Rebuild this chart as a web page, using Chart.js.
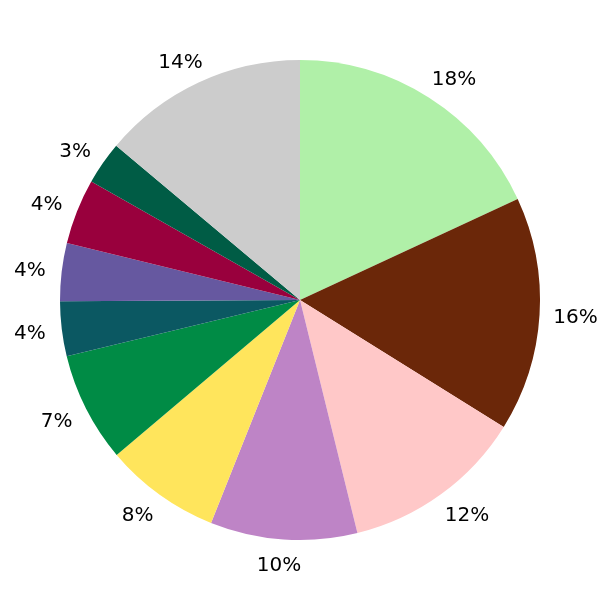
<!DOCTYPE html>
<html>
<head>
<meta charset="utf-8">
<script src="https://cdn.jsdelivr.net/npm/chart.js@4"></script>
<style>
  html, body { margin: 0; padding: 0; background: #fff; }
  #wrap { width: 600px; height: 600px; }
</style>
</head>
<body>
<div id="wrap"><canvas id="myChart" width="600" height="600"></canvas></div>
<script>
// slice values (percent), clockwise from 12 o'clock
var values = [18.1, 15.8, 12.3, 9.9, 7.8, 7.4, 3.7, 3.9, 4.4, 2.9, 13.9];
var pctLabels = ['18%', '16%', '12%', '10%', '8%', '7%', '4%', '4%', '4%', '3%', '14%'];
var colors = ['#b0f0a8', '#6b2709', '#ffc8c8', '#be84c6', '#ffe55c', '#008b45',
              '#0b5862', '#6658a0', '#99003d', '#005c45', '#cccccc'];

// draws the percentage text outside each slice
var outsideLabels = {
    id: 'outsideLabels',
    afterDatasetsDraw: function(chart) {
        var ctx = chart.ctx;
        var meta = chart.getDatasetMeta(0);
        ctx.save();
        ctx.font = '20px "DejaVu Sans"';
        ctx.fillStyle = '#000';
        ctx.textAlign = 'center';
        ctx.textBaseline = 'middle';
        meta.data.forEach(function(arc, i) {
            var mid = (arc.startAngle + arc.endAngle) / 2;
            var r = arc.outerRadius * 1.1;
            var c = Math.cos(mid);
            // nudge text sideways, away from the pie
            var shift = c > 0 ? 12 * Math.min(1, c * 5) : 8 * Math.max(-1, c * 5);
            ctx.fillText(pctLabels[i], arc.x + c * r + shift, arc.y + Math.sin(mid) * r + 2);
        });
        ctx.restore();
    }
};

window.onload = function() {
    var ctx = document.getElementById('myChart').getContext('2d');
    new Chart(ctx, {
        type: 'pie',
        data: {
            labels: pctLabels,
            datasets: [{
                data: values,
                backgroundColor: colors,
                borderWidth: 0
            }]
        },
        options: {
            responsive: false,
            animation: false,
            layout: { padding: 60 },
            plugins: {
                legend: { display: false },
                tooltip: { enabled: false }
            }
        },
        plugins: [outsideLabels]
    });
};
</script>
</body>
</html>
